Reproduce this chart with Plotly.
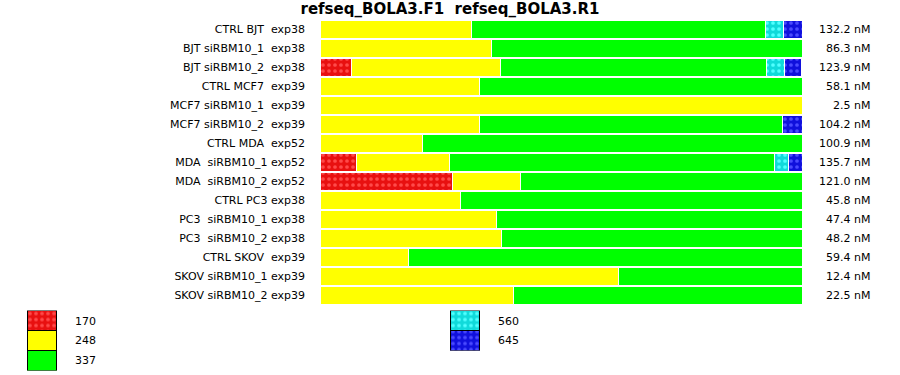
import plotly.graph_objects as go

NB = "\u00a0"
samples = [
    "CTRL BJT  exp38", "BJT siRBM10_1  exp38", "BJT siRBM10_2  exp38",
    "CTRL MCF7  exp39", "MCF7 siRBM10_1  exp39", "MCF7 siRBM10_2  exp39",
    "CTRL MDA  exp52", "MDA  siRBM10_1 exp52", "MDA  siRBM10_2 exp52",
    "CTRL PC3 exp38", "PC3  siRBM10_1 exp38", "PC3  siRBM10_2 exp38",
    "CTRL SKOV  exp39", "SKOV siRBM10_1 exp39", "SKOV siRBM10_2 exp39",
]
concentrations = ["132.2 nM", "86.3 nM", "123.9 nM", "58.1 nM", "2.5 nM", "104.2 nM",
                  "100.9 nM", "135.7 nM", "121.0 nM", "45.8 nM", "47.4 nM", "48.2 nM",
                  "59.4 nM", "12.4 nM", "22.5 nM"]

# percent of each fragment size per sample
frag_170 = [None, None, 6.5, None, None, None, None, 7.5, 27.5, None, None, None, None, None, None]
frag_248 = [31.5, 35.6, 31.0, 33.1, 100.0, 33.1, 21.25, 19.4, 14.0, 29.2, 36.7, 37.7, 18.3, 61.9, 40.2]
frag_337 = [61.0, 64.4, 55.2, 66.9, None, 62.9, 78.75, 67.3, 58.5, 70.8, 63.3, 62.3, 81.7, 38.1, 59.8]
frag_560 = [3.75, None, 3.75, None, None, None, None, 3.1, None, None, None, None, None, None, None]
frag_645 = [3.75, None, 3.5, None, None, 4.0, None, 2.7, None, None, None, None, None, None, None]

legend_left = ["170", "248", "337"]
legend_right = ["560", "645"]

labels = [s.replace(" ", NB) for s in samples]

styles = {
    "170": dict(color="#e81010", fg="#ff4a4a", pat="."),
    "248": dict(color="#ffff00", fg=None, pat=""),
    "337": dict(color="#00ff00", fg=None, pat=""),
    "560": dict(color="#10dada", fg="#50ffff", pat="."),
    "645": dict(color="#1010dc", fg="#4a4aff", pat="."),
}
series = {"170": frag_170, "248": frag_248, "337": frag_337, "560": frag_560, "645": frag_645}

W, H = 900, 375
def fx(px): return px / W
def fy(py): return 1 - py / H

fig = go.Figure()

def marker_for(key, line_color, line_width):
    st = styles[key]
    m = dict(color=st["color"], line=dict(color=line_color, width=line_width))
    if st["pat"]:
        m["pattern"] = dict(shape=st["pat"], fgcolor=st["fg"], bgcolor=st["color"],
                            size=6, solidity=0.3, fillmode="replace")
    return m

for key, vals in series.items():
    fig.add_trace(go.Bar(
        y=labels, x=vals, orientation="h", name=key, width=0.9,
        marker=marker_for(key, "white", 1), showlegend=False, hoverinfo="x+y",
        xaxis="x", yaxis="y",
    ))

# legend swatches
for ax, keys in (("2", legend_left), ("3", legend_right)):
    for key in reversed(keys):
        fig.add_trace(go.Bar(
            x=[0], y=[1], width=1, name=key, showlegend=False,
            marker=marker_for(key, "black", 1.2),
            xaxis="x" + ax, yaxis="y" + ax, hoverinfo="name",
        ))

fig.update_layout(
    width=W, height=H, barmode="stack",
    margin=dict(l=0, r=0, t=0, b=0),
    plot_bgcolor="white", paper_bgcolor="white",
    font=dict(family="DejaVu Sans", size=11, color="#000"),
    title=dict(text="<b>refseq_BOLA3.F1  refseq_BOLA3.R1</b>".replace("  ", NB + NB),
               x=fx(450), xref="paper", xanchor="center", y=fy(9), yref="container",
               yanchor="middle",
               font=dict(size=15, family="DejaVu Sans", color="#000")),
    xaxis=dict(domain=[fx(320), fx(802)], range=[0, 100], visible=False, fixedrange=True),
    yaxis=dict(domain=[fy(305), fy(20)], autorange="reversed", type="category",
               showgrid=False, zeroline=False, showline=False, ticks="",
               ticklabelstandoff=14, tickfont=dict(size=11)),
    xaxis2=dict(domain=[fx(27), fx(57)], range=[-0.5, 0.5], visible=False),
    yaxis2=dict(domain=[fy(370.5), fy(310.5)], range=[0, 3], visible=False),
    xaxis3=dict(domain=[fx(450), fx(480)], range=[-0.5, 0.5], visible=False),
    yaxis3=dict(domain=[fy(350.5), fy(310.5)], range=[0, 2], visible=False),
)
fig.update_layout(yaxis2_anchor="x2", xaxis2_anchor="y2", yaxis3_anchor="x3", xaxis3_anchor="y3")

for lab, conc in zip(labels, concentrations):
    fig.add_annotation(x=fx(872), xref="paper", xanchor="right", y=lab, yref="y",
                       text=conc, showarrow=False, font=dict(size=11))

for i, key in enumerate(legend_left):
    fig.add_annotation(x=fx(73), xref="paper", xanchor="left", y=fy(321 + 19.7 * i),
                       yref="paper", yanchor="middle", text=key, showarrow=False,
                       font=dict(size=11))
for i, key in enumerate(legend_right):
    fig.add_annotation(x=fx(496), xref="paper", xanchor="left", y=fy(321 + 19.7 * i),
                       yref="paper", yanchor="middle", text=key, showarrow=False,
                       font=dict(size=11))

# remove the default page margin so the figure sits at the window's corner
fig.write_html("out.html", config={"displayModeBar": False},
               post_script="document.body.style.margin='0';document.body.style.overflow='hidden';")
